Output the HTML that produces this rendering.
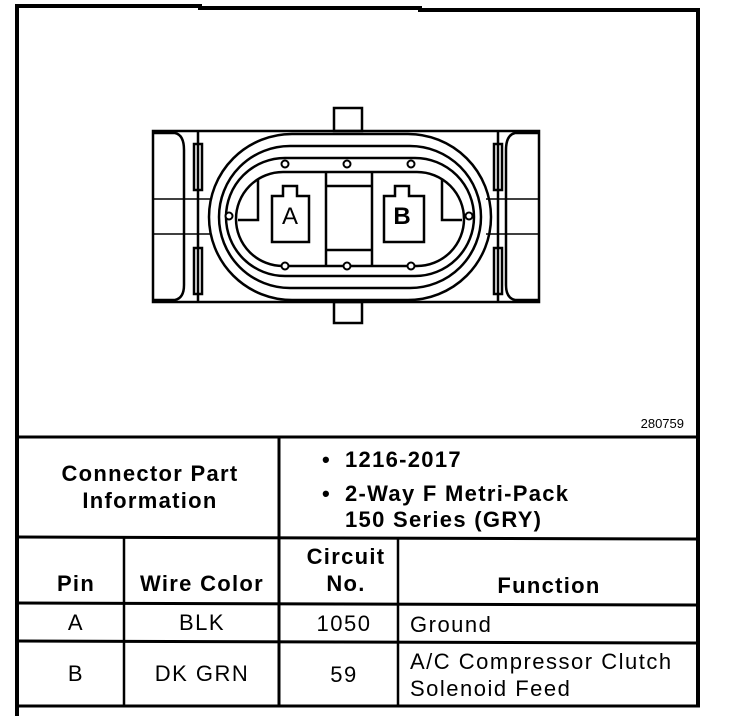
<!DOCTYPE html>
<html><head><meta charset="utf-8"><style>
html,body{margin:0;padding:0;background:#fff;}
svg{display:block}
text{font-family:"Liberation Sans",Arial,sans-serif;fill:#000}
</style></head><body>
<svg width="736" height="716" viewBox="0 0 736 716" xmlns="http://www.w3.org/2000/svg">
<g fill="none" stroke="#000">
<path d="M17 716 V6 H200 V8 H420 V10 H698 V706" stroke-width="4"/>
<line x1="15" y1="706" x2="700" y2="706" stroke-width="3"/>
<line x1="16" y1="437" x2="698" y2="437" stroke-width="3"/>
<line x1="16" y1="537" x2="698" y2="539" stroke-width="3"/>
<line x1="16" y1="603" x2="698" y2="605" stroke-width="3"/>
<line x1="16" y1="641" x2="698" y2="643" stroke-width="3"/>
<line x1="279" y1="437" x2="279" y2="706" stroke-width="3"/>
<line x1="124" y1="537" x2="124" y2="706" stroke-width="2.5"/>
<line x1="398" y1="538" x2="398" y2="706" stroke-width="2.5"/>
<g stroke-width="2.5">
<rect x="153" y="131" width="386" height="171"/>
<rect x="334" y="108" width="28" height="23"/>
<rect x="334" y="302" width="28" height="21"/>
<path d="M153 133 H175 Q184 135 184 150 V285 Q184 298 175 300 H153"/>
<path d="M539 133 H515 Q506 135 506 150 V285 Q506 298 515 300 H539"/>
<line x1="198" y1="131" x2="198" y2="302"/>
<line x1="498" y1="131" x2="498" y2="302"/>
<rect x="194" y="144" width="8" height="46"/>
<rect x="194" y="248" width="8" height="46"/>
<rect x="494" y="144" width="8" height="46"/>
<rect x="494" y="248" width="8" height="46"/>
<path d="M153 199 H210 M153 234 H210 M486 199 H539 M486 234 H539" stroke-width="1.5"/>
<rect x="209" y="134" width="282" height="166" rx="83" ry="83"/>
<rect x="219" y="146" width="262" height="142" rx="71" ry="71"/>
<rect x="226" y="158" width="248" height="118" rx="59" ry="59"/>
<rect x="236" y="172" width="228" height="94" rx="47" ry="47"/>
<line x1="326" y1="172" x2="326" y2="266"/>
<line x1="372" y1="172" x2="372" y2="266"/>
<line x1="326" y1="186" x2="372" y2="186"/>
<line x1="326" y1="250" x2="372" y2="250"/>
<path d="M258 180 V220 H238"/>
<path d="M442 180 V220 H462"/>
<path d="M272 196 H283 V186 H297 V196 H309 V242 H272 Z"/>
<path d="M384 196 H395 V186 H409 V196 H424 V242 H384 Z"/>
</g>
<g stroke-width="2" fill="#fff">
<circle cx="285" cy="164" r="3.5"/><circle cx="347" cy="164" r="3.5"/><circle cx="411" cy="164" r="3.5"/>
<circle cx="285" cy="266" r="3.5"/><circle cx="347" cy="266" r="3.5"/><circle cx="411" cy="266" r="3.5"/>
<circle cx="229" cy="216" r="3.5"/><circle cx="469" cy="216" r="3.5"/>
</g>
</g>
<text x="290" y="224" font-size="24" text-anchor="middle">A</text>
<text x="402" y="224" font-size="24" text-anchor="middle" font-weight="bold">B</text>
<text x="684" y="428" font-size="13" text-anchor="end">280759</text>
<g font-weight="bold" font-size="22" letter-spacing="1.3">
<text x="150" y="481" text-anchor="middle">Connector Part</text>
<text x="150" y="508" text-anchor="middle">Information</text>
<text x="322" y="467">•</text><text x="345" y="467">1216-2017</text>
<text x="322" y="501">•</text><text x="345" y="501">2-Way F Metri-Pack</text>
<text x="345" y="527">150 Series (GRY)</text>
<text x="76" y="591" text-anchor="middle">Pin</text>
<text x="202" y="591" text-anchor="middle">Wire Color</text>
<text x="346" y="564" text-anchor="middle">Circuit</text>
<text x="346" y="591" text-anchor="middle">No.</text>
<text x="549" y="593" text-anchor="middle">Function</text>
</g>
<g font-size="22" letter-spacing="1.5">
<text x="76" y="630" text-anchor="middle">A</text>
<text x="202" y="630" text-anchor="middle">BLK</text>
<text x="344" y="631" text-anchor="middle">1050</text>
<text x="410" y="632">Ground</text>
<text x="76" y="681" text-anchor="middle">B</text>
<text x="202" y="681" text-anchor="middle">DK GRN</text>
<text x="344" y="682" text-anchor="middle">59</text>
<text x="410" y="669">A/C Compressor Clutch</text>
<text x="410" y="696">Solenoid Feed</text>
</g>
</svg>
</body></html>
